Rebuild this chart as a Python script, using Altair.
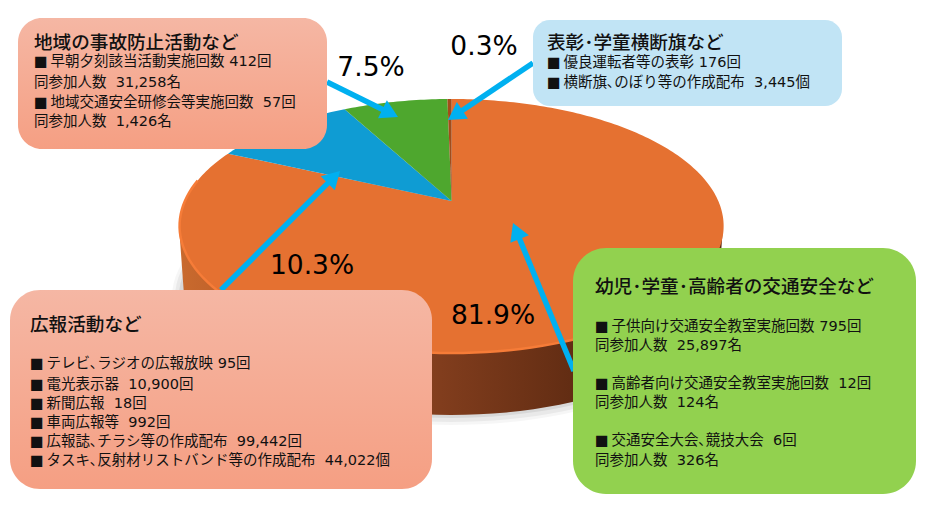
import math
import altair as alt

# ---- values ----
shares = [81.9, 10.3, 7.5, 0.3]
share_names = ["幼児・学童・高齢者", "広報活動", "地域の事故防止活動", "表彰・学童横断旗"]
share_colors = ["#E57131", "#0F9CD3", "#4EA72E", "#A34C1A"]
pct_labels = ["81.9%", "10.3%", "7.5%", "0.3%"]
pct_x = [493, 312, 371, 484]
pct_y = [314, 264, 66, 45]

box_x = [18, 533, 10, 573]
box_x2 = [327, 842, 432, 916]
box_y = [18, 20, 290, 248]
box_y2 = [149, 106, 489, 494]
box_r = [24, 17, 30, 33]

NB = "\u00a0\u00a0"
SQ = "■\u2009"
box1_lines = [f"{SQ}早朝夕刻該当活動実施回数 412回", f"同参加人数{NB}31,258名", f"{SQ}地域交通安全研修会等実施回数{NB}57回", f"同参加人数{NB}1,426名"]
box1_ys = [61, 82, 102, 121]
box2_lines = [f"{SQ}優良運転者等の表彰 176回", f"{SQ}横断旗､のぼり等の作成配布{NB}3,445個"]
box2_ys = [62, 82]
box3_lines = [f"{SQ}テレビ､ラジオの広報放映 95回", f"{SQ}電光表示器{NB}10,900回", f"{SQ}新聞広報{NB}18回", f"{SQ}車両広報等{NB}992回",
              f"{SQ}広報誌､チラシ等の作成配布{NB}99,442回", f"{SQ}タスキ､反射材リストバンド等の作成配布{NB}44,022個"]
box3_ys = [363, 384, 403, 422, 441, 460]
box4_lines = [f"{SQ}子供向け交通安全教室実施回数 795回", f"同参加人数{NB}25,897名", f"{SQ}高齢者向け交通安全教室実施回数{NB}12回",
              f"同参加人数{NB}124名", f"{SQ}交通安全大会､競技大会{NB}6回", f"同参加人数{NB}326名"]
box4_ys = [326, 345, 383, 402, 440, 460]

titles = ["地域の事故防止活動など", "表彰･学童横断旗など", "広報活動など", "幼児･学童･高齢者の交通安全など"]
title_x = [34, 547, 30, 595]
title_y = [41, 41, 323, 285]
body_x = [34, 547, 30, 595]

arrow_x0 = [327, 533, 221, 574]
arrow_y0 = [82, 63, 290, 371]
arrow_x1 = [398, 448, 340, 513]
arrow_y1 = [117, 120, 171, 223]

# ---- geometry helpers ----
W, H = 917, 495
OX, OY = 8, 8
CX, CY = 451.6, 201
RX, RY, K = 266.7, 122.1, 0.197


def persp(deg):
    t = math.radians(deg)
    u, v = math.sin(t), math.cos(t)
    d = 1 + K * v
    return CX + RX * u / d, CY - RY * v / d


def ell(cx, cy, rx, ry, a0=0, a1=360, step=3):
    pts = []
    a = a0
    while a <= a1:
        t = math.radians(a)
        pts.append((cx + rx * math.sin(t), cy - ry * math.cos(t)))
        a += step
    return pts


def feat(pts, color, op=1.0):
    ring = [[p[0] - OX, p[1] - OY] for p in pts]
    ring.append(ring[0])
    return {"type": "Feature", "geometry": {"type": "Polygon", "coordinates": [ring]},
            "properties": {"color": color, "op": op}}


xs = alt.Scale(domain=[OX, OX + W], nice=False, zero=False)
ys = alt.Scale(domain=[OY + H, OY], nice=False, zero=False)
X = lambda f: alt.X(f, type="quantitative", scale=xs, axis=None)
Y = lambda f: alt.Y(f, type="quantitative", scale=ys, axis=None)
PROJ = dict(type="identity", scale=1, translate=[0, 0])

# full-frame transparent feature keeps the projection at 1:1
frame = feat([(OX, OY), (OX + W, OY), (OX + W, OY + H), (OX, OY + H)], "#ffffff", 0)
shadow = [feat(ell(451, 297, 279, 128), "#000000", 0.035),
          feat(ell(451, 297, 276, 125), "#000000", 0.05),
          feat(ell(451, 296, 272, 122), "#000000", 0.07)]


def geo_layer(features):
    return alt.Chart(alt.Data(values=features)).mark_geoshape(strokeWidth=0).encode(
        fill=alt.Fill("properties.color:N", scale=None),
        fillOpacity=alt.FillOpacity("properties.op:Q", scale=None),
    ).project(**PROJ)


def stops(*pairs):
    return [alt.GradientStop(offset=o, color=c) for o, c in pairs]


# wall
wall_pts = [(179, 226)] + ell(451, 295, 267, 120, 90, 270)[::-1] + [(723, 226)]
wall = alt.Chart(alt.Data(values=[feat(wall_pts, "x")])).mark_geoshape(
    strokeWidth=0,
    fill=alt.LinearGradient(gradient="linear", x1=0, x2=1, y1=0, y2=0, stops=stops(
        (0, "#C96A2E"), (0.14, "#B95C28"), (0.48, "#813D1D"), (0.75, "#5F2B12"), (1, "#5A2810"))),
).project(**PROJ)

# top-face slices, clockwise from twelve o'clock
wedges = []
start = 0.0
for s, c in zip(shares, share_colors):
    span = s / sum(shares) * 360
    n = max(2, int(span))
    pts = [(CX, CY)] + [persp(start + span * i / n) for i in range(n + 1)]
    wedges.append(feat(pts, c))
    start += span

# lighter rim on the front edge
rim_rows = [{"x": persp(a)[0], "y": persp(a)[1], "o": a} for a in range(130, 282, 2)]
rim = alt.Chart(alt.Data(values=rim_rows)).mark_line(color="#F67C38", strokeWidth=2.5).encode(
    x=X("x"), y=Y("y"), order="o:Q")

# arrows
ARW = "#00B0F0"
HEAD = 20
rows = []
for x0, y0, x1, y1 in zip(arrow_x0, arrow_y0, arrow_x1, arrow_y1):
    L = math.hypot(x1 - x0, y1 - y0)
    ux, uy = (x1 - x0) / L, (y1 - y0) / L
    back = HEAD * 0.866 / 2
    rows.append({"x0": x0, "y0": y0, "x1": x1 - ux * back, "y1": y1 - uy * back,
                 "a": (math.degrees(math.atan2(ux, -uy))) % 360})
arrow_shaft = alt.Chart(alt.Data(values=rows)).mark_rule(color=ARW, strokeWidth=5.5).encode(
    x=X("x0"), y=Y("y0"), x2="x1:Q", y2="y1:Q")
arrow_head = alt.Chart(alt.Data(values=rows)).mark_point(
    shape="triangle-up", filled=True, color=ARW, opacity=1, size=HEAD * HEAD).encode(
    x=X("x1"), y=Y("y1"), angle=alt.Angle("a:Q", scale=None))

# boxes
SALMON = alt.LinearGradient(gradient="linear", x1=0, x2=0, y1=0, y2=1,
                            stops=stops((0, "#F5B7A4"), (1, "#F59F83")))
fills = [SALMON, "#C1E4F5", SALMON, "#92D14F"]
box_layers = []
for i in range(4):
    box_layers.append(
        alt.Chart(alt.Data(values=[{"x": box_x[i], "x2": box_x2[i], "y": box_y[i], "y2": box_y2[i]}]))
        .mark_rect(fill=fills[i], cornerRadius=box_r[i])
        .encode(x=X("x"), x2="x2:Q", y=Y("y"), y2="y2:Q")
    )

FONT = "DejaVu Sans, Noto Sans CJK JP"


def text_layer(rows, size, weight=400, dy=1):
    return alt.Chart(alt.Data(values=rows)).mark_text(
        align="left", baseline="middle", font=FONT, fontSize=size, fontWeight=weight, color="#111111", dy=dy
    ).encode(x=X("x"), y=Y("y"), text="t:N")


body_rows = []
for i, (lines, yy) in enumerate(zip([box1_lines, box2_lines, box3_lines, box4_lines],
                                    [box1_ys, box2_ys, box3_ys, box4_ys])):
    for t, y in zip(lines, yy):
        body_rows.append({"x": body_x[i], "y": y, "t": t})
title_rows = [{"x": x, "y": y, "t": t} for x, y, t in zip(title_x, title_y, titles)]
pct_rows = [{"x": x, "y": y, "t": t} for x, y, t in zip(pct_x, pct_y, pct_labels)]

pct_layer = alt.Chart(alt.Data(values=pct_rows)).mark_text(
    align="center", baseline="middle", font="DejaVu Sans", fontSize=26.5, color="#000000", dy=2
).encode(x=X("x"), y=Y("y"), text="t:N")

chart = alt.layer(
    geo_layer([frame] + shadow),
    wall,
    geo_layer(wedges),
    rim,
    pct_layer,
    arrow_shaft,
    arrow_head,
    *box_layers,
    text_layer(body_rows, 14.5),
    text_layer(title_rows, 18.6, 500, 1.5),
).properties(width=W, height=H, padding=0, autosize=alt.AutoSizeParams(type="none")).configure_view(stroke=None)

chart.save("out.html", embed_options={"renderer": "svg", "actions": False})
